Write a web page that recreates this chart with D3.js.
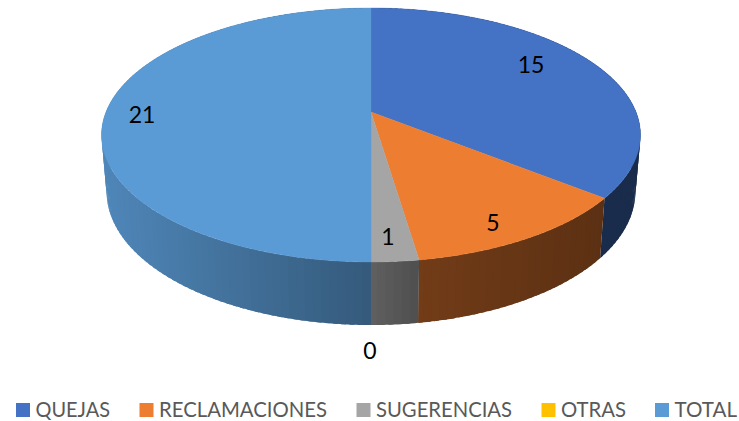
<!DOCTYPE html>
<html>
<head>
<meta charset="utf-8">
<script src="https://cdn.jsdelivr.net/npm/d3@7"></script>
<style>
  html, body { margin: 0; padding: 0; background: #fff; }
  svg { display: block; }
</style>
</head>
<body>
<div id="chart"></div>
<script>
const categories = ['QUEJAS', 'RECLAMACIONES', 'SUGERENCIAS', 'OTRAS', 'TOTAL'];
const values = [15, 5, 1, 0, 21];
const colors = ['#4472C4', '#ED7D31', '#A5A5A5', '#FFC000', '#5B9BD5'];

const width = 739;
const height = 421;

const svg = d3.select('#chart').append('svg')
  .attr('width', width)
  .attr('height', height);

// the pie is tilted with perspective, so the centre is not the middle of the ellipse
const cx = 371;
const k = 0.181;
const topDisc = { y0: 112, a: 122.8, b: 265 };
const bottomDisc = { y0: 167.5, a: 129, b: 260 };

function project(disc, angle) {
  const u = Math.sin(angle);
  const v = -Math.cos(angle);
  const w = 1 - k * v;
  return [cx + disc.b * u / w, disc.y0 + disc.a * v / w];
}

// side wall gets darker going to the right
const shade = d3.scaleLinear()
  .domain([100, 370, 418, 600, 640])
  .range([0.87, 0.58, 0.48, 0.39, 0.38]);

function darken(color, f) {
  const c = d3.rgb(color);
  return d3.rgb(c.r * f, c.g * f, c.b * f).formatHex();
}

const pie = d3.pie().sort(null).startAngle(0).endAngle(2 * Math.PI);
const slices = pie(values);
const line = d3.line();
const step = Math.PI / 120;

// side walls first, the top covers whatever is behind.
// each strip runs a bit under the next one so no seams show
slices.forEach(s => {
  for (let a = s.startAngle; a < s.endAngle - 1e-6; a += step) {
    const a2 = Math.min(a + step * 1.6, s.endAngle);
    const pts = [];
    for (let i = 0; i <= 4; i++) pts.push(project(topDisc, a + (a2 - a) * i / 4));
    for (let i = 4; i >= 0; i--) pts.push(project(bottomDisc, a + (a2 - a) * i / 4));
    svg.append('path')
      .attr('d', line(pts) + 'Z')
      .attr('fill', darken(colors[s.index], shade(project(topDisc, a + step / 2)[0])));
  }
});

// top face
slices.forEach(s => {
  if (s.value === 0) return;
  const pts = [[cx, topDisc.y0]];
  const n = Math.ceil((s.endAngle - s.startAngle) / step);
  for (let i = 0; i <= n; i++) {
    pts.push(project(topDisc, s.startAngle + (s.endAngle - s.startAngle) * i / n));
  }
  svg.append('path')
    .attr('d', line(pts) + 'Z')
    .attr('fill', colors[s.index])
    .attr('stroke', colors[s.index])
    .attr('stroke-width', 0.4);
});

// data labels, Excel puts these by hand-ish rules so they are placed one by one
const labelX = [531, 493, 388, 370, 142];
const labelY = [65, 223, 237, 351, 115];
svg.selectAll('text.value')
  .data(values)
  .enter().append('text')
  .attr('class', 'value')
  .attr('x', (d, i) => labelX[i])
  .attr('y', (d, i) => labelY[i])
  .attr('dy', '0.35em')
  .attr('text-anchor', 'middle')
  .attr('font-family', 'Lato, "Open Sans", sans-serif')
  .attr('font-size', 23)
  .attr('fill', '#000')
  .text(d => d);

// legend
const legendX = [16, 139.5, 356.5, 541.5, 655];
const legendEnd = [110, 327, 512, 626, 737];
const legend = svg.selectAll('g.legend')
  .data(categories)
  .enter().append('g')
  .attr('class', 'legend');

legend.append('rect')
  .attr('x', (d, i) => legendX[i])
  .attr('y', 403)
  .attr('width', 14)
  .attr('height', 14)
  .attr('fill', (d, i) => colors[i]);

legend.append('text')
  .attr('x', (d, i) => legendX[i] + 19.5)
  .attr('y', 417)
  .attr('font-family', 'Lato, "Open Sans", sans-serif')
  .attr('font-size', 21)
  .attr('fill', '#595959')
  .attr('textLength', (d, i) => legendEnd[i] - legendX[i] - 19.5)
  .attr('lengthAdjust', 'spacingAndGlyphs')
  .text(d => d);
</script>
</body>
</html>
